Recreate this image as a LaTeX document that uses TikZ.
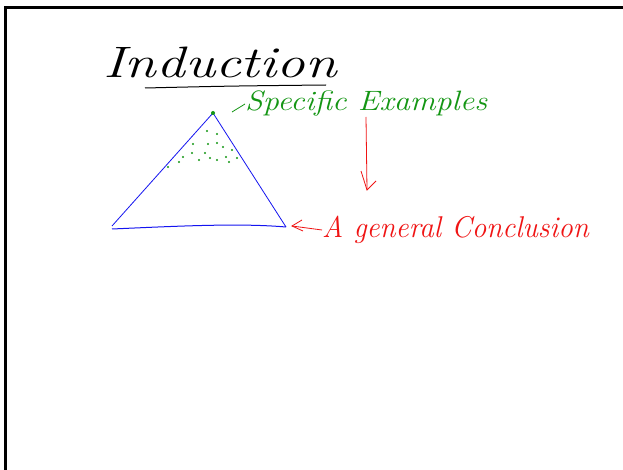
\documentclass[tikz,border=0pt]{standalone}
\usepackage{fontspec}
\definecolor{inkgreen}{RGB}{20,150,20}
\definecolor{inkred}{RGB}{240,20,20}
\definecolor{inkblue}{RGB}{20,20,240}
\begin{document}
\begin{tikzpicture}[x=1pt,y=-1pt,
  hand/.style={inner sep=0pt,font=\itshape},
  dotg/.style={fill=inkgreen,draw=none}]
\useasboundingbox (0,0) rectangle (623,470);
\fill[white] (0,0) rectangle (623,470);
% frame
\coordinate (fl) at (5.5,470);
\coordinate (ftl) at (5.5,7.5);
\coordinate (ftr) at (623,7.5);
\draw[line width=2.5pt] (fl) -- (ftl) -- (ftr);
% title
\node[hand,font=\itshape\fontsize{44}{48}\selectfont,xscale=1.3] (title) at (220,62) {Induction};
\coordinate (ul1) at (145,88);
\coordinate (ul2) at (326,85);
\draw[line width=1pt] (ul1) .. controls (230,86) .. (ul2);
% triangle
\coordinate (apex) at (213,113);
\coordinate (bl) at (112,226);
\coordinate (br) at (286,227);
\coordinate (blb) at (112,229);
\draw[inkblue,line width=0.8pt] (bl) -- (apex) -- (br);
\draw[inkblue,line width=1pt] (blb) .. controls (180,226) and (240,223) .. (br);
\fill[inkgreen] (apex) circle (2);
% dots
\foreach \p in {(207,131),(217,134),(193,144),(208,144),(217,143),(223,147),(232,150),(192,153),(205,153),(183,157),(199,160),(210,158),(217,160),(226,157),(229,162),(237,158),(179,162),(168,167)}
  \fill[inkgreen] \p circle (1.1);
% green label
\coordinate (gl1) at (232,112);
\node[hand,text=inkgreen,font=\itshape\fontsize{28}{30}\selectfont,xscale=1.15,anchor=west] (spec) at (245,104) {Specific Examples};
\draw[inkgreen,line width=0.8pt] (gl1) -- (spec.west);
% red arrows
\coordinate (va1) at (366,117);
\coordinate (va2) at (367,190);
\draw[inkred,line width=0.8pt] (va1) -- (va2);
\draw[inkred,line width=0.8pt] (361,171) -- (va2) -- (376,181);
\node[hand,text=inkred,font=\itshape\fontsize{30}{32}\selectfont,xscale=0.97,anchor=west] (concl) at (322,230) {A general Conclusion};
\coordinate (ha) at (292,226);
\draw[inkred,line width=0.8pt] (concl.west) -- (ha);
\draw[inkred,line width=0.8pt] (302,220) -- (ha) -- (303,231);
\end{tikzpicture}
\end{document}
